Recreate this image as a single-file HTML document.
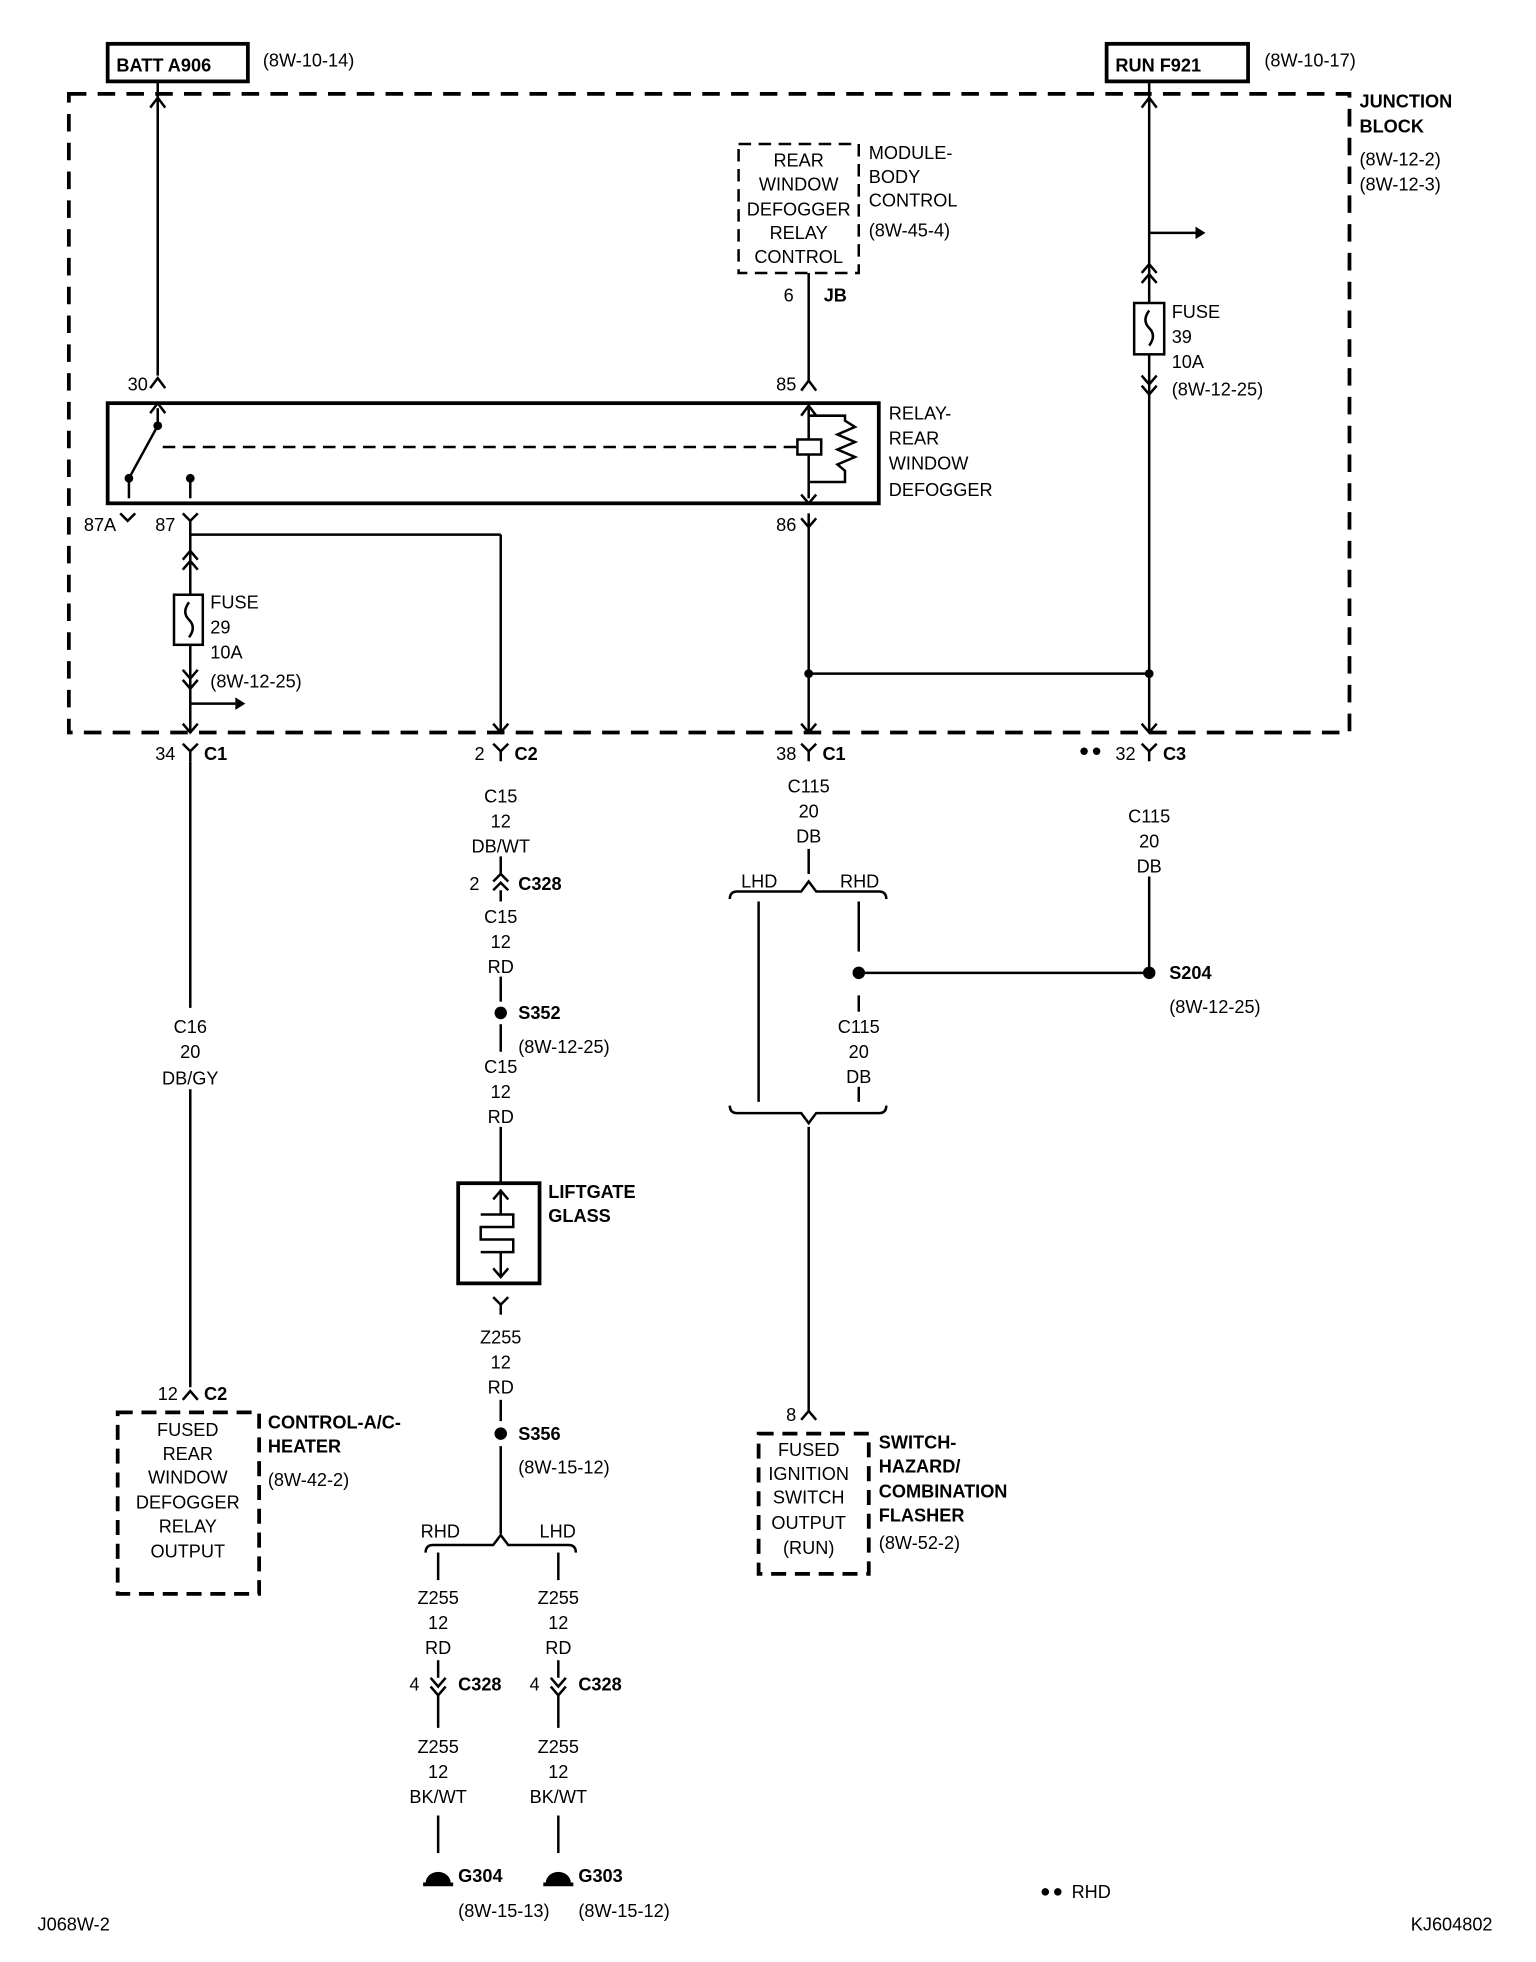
<!DOCTYPE html>
<html><head><meta charset="utf-8"><style>
html,body{margin:0;padding:0;background:#fff;}
svg{display:block;}
text{font-family:"Liberation Sans",sans-serif;font-size:14.5px;fill:#000;}
.b{font-weight:bold;}
.m{text-anchor:middle;}
</style></head><body>
<svg width="1536" height="1962" viewBox="0 0 1227 1567" preserveAspectRatio="none" xmlns="http://www.w3.org/2000/svg">
<g fill="none" stroke="#000" stroke-width="2">
<rect x="86" y="35" width="112" height="30" stroke-width="3"/>
<rect x="884" y="35" width="113" height="30" stroke-width="3"/>
<rect x="55" y="75" width="1023" height="510" stroke-width="3" stroke-dasharray="14 9"/>
<rect x="86" y="322" width="616" height="80" stroke-width="3"/>
<line x1="130" y1="357" x2="636" y2="357" stroke-dasharray="10 6"/>
<rect x="637" y="351" width="19" height="12"/>
<line x1="646" y1="326" x2="646" y2="351"/><line x1="646" y1="363" x2="646" y2="398"/>
<polyline points="646,332 675,332 675,336 683,341 669,347 683,353 669,359 683,365 669,371 675,376 675,385 646,385"/>
<line x1="126" y1="326" x2="126" y2="340"/>
<line x1="126" y1="340" x2="103" y2="382"/>
<line x1="103" y1="382" x2="103" y2="398"/>
<line x1="152" y1="382" x2="152" y2="398"/>
<rect x="590" y="115" width="96" height="103" stroke-dasharray="10 6"/>
<line x1="126" y1="66" x2="126" y2="300"/>
<polyline points="120,86 126,78 132,86"/>
<polyline points="120,310 126,302 132,310"/>
<polyline points="120,330 126,322 132,330"/>
<line x1="646" y1="218" x2="646" y2="305"/>
<polyline points="640,312 646,304 652,312"/>
<polyline points="640,332 646,324 652,332"/>
<line x1="646" y1="410" x2="646" y2="585"/>
<polyline points="640,395 646,402 652,395"/>
<polyline points="640,414 646,421 652,414"/>
<line x1="918" y1="66" x2="918" y2="585"/>
<polyline points="912,86 918,78 924,86"/>
<line x1="918" y1="186" x2="955" y2="186"/>
<rect x="906" y="242" width="24" height="41" fill="#fff"/>
<path d="M918 248 q-6 8 0 14 q6 6 0 14"/>
<polyline points="912,218 918,211 924,218"/><polyline points="912,226 918,219 924,226"/>
<polyline points="912,300 918,307 924,300"/><polyline points="912,308 918,315 924,308"/>
<line x1="646" y1="538" x2="918" y2="538"/>
<polyline points="96,410 102,416 108,410"/>
<polyline points="146,410 152,416 158,410"/>
<line x1="152" y1="416" x2="152" y2="585"/>
<line x1="152" y1="427" x2="400" y2="427"/>
<line x1="400" y1="427" x2="400" y2="585"/>
<rect x="139" y="475" width="23" height="40" fill="#fff"/>
<path d="M151 481 q-6 8 0 14 q6 6 0 14"/>
<polyline points="146,447 152,440 158,447"/><polyline points="146,455 152,448 158,455"/>
<polyline points="146,535 152,542 158,535"/><polyline points="146,543 152,550 158,543"/>
<line x1="152" y1="562" x2="188" y2="562"/>
<polyline points="146,578 152,585 158,578"/>
<polyline points="394,578 400,585 406,578"/>
<polyline points="640,578 646,585 652,578"/>
<polyline points="912,578 918,585 924,578"/>
<g><polyline points="146,594 152,600 158,594"/><line x1="152" y1="600" x2="152" y2="608"/></g>
<g><polyline points="394,594 400,600 406,594"/><line x1="400" y1="600" x2="400" y2="608"/></g>
<g><polyline points="640,594 646,600 652,594"/><line x1="646" y1="600" x2="646" y2="608"/></g>
<g><polyline points="912,594 918,600 924,594"/><line x1="918" y1="600" x2="918" y2="608"/></g>
<line x1="152" y1="608" x2="152" y2="805"/>
<line x1="152" y1="870" x2="152" y2="1108"/>
<polyline points="146,1118 152,1111 158,1118"/>
<rect x="94" y="1128" width="113" height="145" stroke-width="3" stroke-dasharray="12 7"/>
<line x1="400" y1="684" x2="400" y2="698"/>
<polyline points="394,704 400,698 406,704"/><polyline points="394,711 400,705 406,711"/>
<line x1="400" y1="711" x2="400" y2="720"/>
<line x1="400" y1="780" x2="400" y2="800"/>
<line x1="400" y1="818" x2="400" y2="840"/>
<line x1="400" y1="900" x2="400" y2="945"/>
<rect x="366" y="945" width="65" height="80" stroke-width="3"/>
<line x1="400" y1="950" x2="400" y2="970"/>
<polyline points="394,958 400,951 406,958"/>
<polyline points="384,970 410,970 410,980 384,980 384,990 410,990 410,1000 384,1000"/>
<line x1="400" y1="1000" x2="400" y2="1020"/>
<polyline points="394,1013 400,1020 406,1013"/>
<polyline points="394,1036 400,1042 406,1036"/><line x1="400" y1="1042" x2="400" y2="1050"/>
<line x1="400" y1="1118" x2="400" y2="1135"/>
<line x1="400" y1="1155" x2="400" y2="1225"/>
<path d="M340 1240 q0 -6 6 -6 h48 l6 -8 l6 8 h48 q6 0 6 6"/>
<line x1="350" y1="1240" x2="350" y2="1262"/>
<line x1="446" y1="1240" x2="446" y2="1262"/>
<line x1="350" y1="1326" x2="350" y2="1340"/><line x1="446" y1="1326" x2="446" y2="1340"/>
<polyline points="344,1340 350,1347 356,1340"/><polyline points="344,1347 350,1354 356,1347"/>
<polyline points="440,1340 446,1347 452,1340"/><polyline points="440,1347 446,1354 452,1347"/>
<line x1="350" y1="1354" x2="350" y2="1380"/><line x1="446" y1="1354" x2="446" y2="1380"/>
<line x1="350" y1="1450" x2="350" y2="1480"/><line x1="446" y1="1450" x2="446" y2="1480"/>
<line x1="338" y1="1505" x2="362" y2="1505" stroke-width="3"/>
<line x1="434" y1="1505" x2="458" y2="1505" stroke-width="3"/>
<line x1="646" y1="678" x2="646" y2="698"/>
<path d="M583 718 q0 -6 6 -6 h51 l6 -8 l6 8 h50 q6 0 6 6"/>
<line x1="606" y1="720" x2="606" y2="880"/>
<line x1="686" y1="720" x2="686" y2="760"/>
<line x1="686" y1="777" x2="918" y2="777"/>
<line x1="686" y1="795" x2="686" y2="808"/>
<line x1="686" y1="868" x2="686" y2="880"/>
<line x1="918" y1="700" x2="918" y2="777"/>
<path d="M583 883 q0 6 6 6 h51 l6 8 l6 -8 h50 q6 0 6 -6"/>
<line x1="646" y1="900" x2="646" y2="1128"/>
<polyline points="640,1134 646,1127 652,1134"/>
<rect x="606" y="1145" width="88" height="112" stroke-width="3" stroke-dasharray="12 7"/>
</g>
<g fill="#000">
<circle cx="103" cy="382" r="3.5"/><circle cx="152" cy="382" r="3.5"/><circle cx="126" cy="340" r="3.5"/>
<circle cx="646" cy="538" r="3.5"/><circle cx="918" cy="538" r="3.5"/>
<circle cx="400" cy="809" r="5"/><circle cx="400" cy="1145" r="5"/>
<circle cx="686" cy="777" r="5"/><circle cx="918" cy="777" r="5"/>
<circle cx="866" cy="600" r="3"/><circle cx="876" cy="600" r="3"/>
<circle cx="835" cy="1511" r="3"/><circle cx="845" cy="1511" r="3"/>
<path d="M340 1504 a10 9 0 0 1 20 0 z"/><path d="M436 1504 a10 9 0 0 1 20 0 z"/>
<polygon points="955,181 963,186 955,191"/><polygon points="188,557 196,562 188,567"/>
</g>
<text class="b" x="93" y="57">BATT A906</text>
<text x="210" y="53">(8W-10-14)</text>
<text class="b" x="891" y="57">RUN F921</text>
<text x="1010" y="53">(8W-10-17)</text>
<text class="b" x="1086" y="86">JUNCTION</text><text class="b" x="1086" y="106">BLOCK</text>
<text x="1086" y="132">(8W-12-2)</text><text x="1086" y="152">(8W-12-3)</text>
<text class="m" x="638" y="133">REAR</text><text class="m" x="638" y="152">WINDOW</text><text class="m" x="638" y="172">DEFOGGER</text><text class="m" x="638" y="191">RELAY</text><text class="m" x="638" y="210">CONTROL</text>
<text x="694" y="127">MODULE-</text><text x="694" y="146">BODY</text><text x="694" y="165">CONTROL</text><text x="694" y="189">(8W-45-4)</text>
<text x="626" y="241">6</text><text class="b" x="658" y="241">JB</text>
<text x="102" y="312">30</text><text x="620" y="312">85</text>
<text x="710" y="335">RELAY-</text><text x="710" y="355">REAR</text><text x="710" y="375">WINDOW</text><text x="710" y="396">DEFOGGER</text>
<text x="67" y="424">87A</text><text x="124" y="424">87</text><text x="620" y="424">86</text>
<text x="936" y="254">FUSE</text><text x="936" y="274">39</text><text x="936" y="294">10A</text><text x="936" y="316">(8W-12-25)</text>
<text x="168" y="486">FUSE</text><text x="168" y="506">29</text><text x="168" y="526">10A</text><text x="168" y="549">(8W-12-25)</text>
<text x="124" y="607">34</text><text class="b" x="163" y="607">C1</text>
<text x="379" y="607">2</text><text class="b" x="411" y="607">C2</text>
<text x="620" y="607">38</text><text class="b" x="657" y="607">C1</text>
<text x="891" y="607">32</text><text class="b" x="929" y="607">C3</text>
<text class="m" x="152" y="825">C16</text><text class="m" x="152" y="845">20</text><text class="m" x="152" y="866">DB/GY</text>
<text x="126" y="1118">12</text><text class="b" x="163" y="1118">C2</text>
<text class="m" x="150" y="1147">FUSED</text><text class="m" x="150" y="1166">REAR</text><text class="m" x="150" y="1185">WINDOW</text><text class="m" x="150" y="1205">DEFOGGER</text><text class="m" x="150" y="1224">RELAY</text><text class="m" x="150" y="1244">OUTPUT</text>
<text class="b" x="214" y="1141">CONTROL-A/C-</text><text class="b" x="214" y="1160">HEATER</text><text x="214" y="1187">(8W-42-2)</text>
<text class="m" x="400" y="641">C15</text><text class="m" x="400" y="661">12</text><text class="m" x="400" y="681">DB/WT</text>
<text x="375" y="711">2</text><text class="b" x="414" y="711">C328</text>
<text class="m" x="400" y="737">C15</text><text class="m" x="400" y="757">12</text><text class="m" x="400" y="777">RD</text>
<text class="b" x="414" y="814">S352</text><text x="414" y="841">(8W-12-25)</text>
<text class="m" x="400" y="857">C15</text><text class="m" x="400" y="877">12</text><text class="m" x="400" y="897">RD</text>
<text class="b" x="438" y="957">LIFTGATE</text><text class="b" x="438" y="976">GLASS</text>
<text class="m" x="400" y="1073">Z255</text><text class="m" x="400" y="1093">12</text><text class="m" x="400" y="1113">RD</text>
<text class="b" x="414" y="1150">S356</text><text x="414" y="1177">(8W-15-12)</text>
<text x="336" y="1228">RHD</text><text x="431" y="1228">LHD</text>
<text class="m" x="350" y="1281">Z255</text><text class="m" x="350" y="1301">12</text><text class="m" x="350" y="1321">RD</text>
<text class="m" x="446" y="1281">Z255</text><text class="m" x="446" y="1301">12</text><text class="m" x="446" y="1321">RD</text>
<text x="327" y="1350">4</text><text class="b" x="366" y="1350">C328</text>
<text x="423" y="1350">4</text><text class="b" x="462" y="1350">C328</text>
<text class="m" x="350" y="1400">Z255</text><text class="m" x="350" y="1420">12</text><text class="m" x="350" y="1440">BK/WT</text>
<text class="m" x="446" y="1400">Z255</text><text class="m" x="446" y="1420">12</text><text class="m" x="446" y="1440">BK/WT</text>
<text class="b" x="366" y="1503">G304</text><text class="b" x="462" y="1503">G303</text>
<text x="366" y="1531">(8W-15-13)</text><text x="462" y="1531">(8W-15-12)</text>
<text class="m" x="646" y="633">C115</text><text class="m" x="646" y="653">20</text><text class="m" x="646" y="673">DB</text>
<text x="592" y="709">LHD</text><text x="671" y="709">RHD</text>
<text class="m" x="686" y="825">C115</text><text class="m" x="686" y="845">20</text><text class="m" x="686" y="865">DB</text>
<text class="m" x="918" y="657">C115</text><text class="m" x="918" y="677">20</text><text class="m" x="918" y="697">DB</text>
<text class="b" x="934" y="782">S204</text><text x="934" y="809">(8W-12-25)</text>
<text x="628" y="1135">8</text>
<text class="m" x="646" y="1163">FUSED</text><text class="m" x="646" y="1182">IGNITION</text><text class="m" x="646" y="1201">SWITCH</text><text class="m" x="646" y="1221">OUTPUT</text><text class="m" x="646" y="1241">(RUN)</text>
<text class="b" x="702" y="1157">SWITCH-</text><text class="b" x="702" y="1176">HAZARD/</text><text class="b" x="702" y="1196">COMBINATION</text><text class="b" x="702" y="1215">FLASHER</text><text x="702" y="1237">(8W-52-2)</text>
<text x="856" y="1516">RHD</text>
<text x="30" y="1542">J068W-2</text><text x="1127" y="1542">KJ604802</text>
</svg>
</body></html>
